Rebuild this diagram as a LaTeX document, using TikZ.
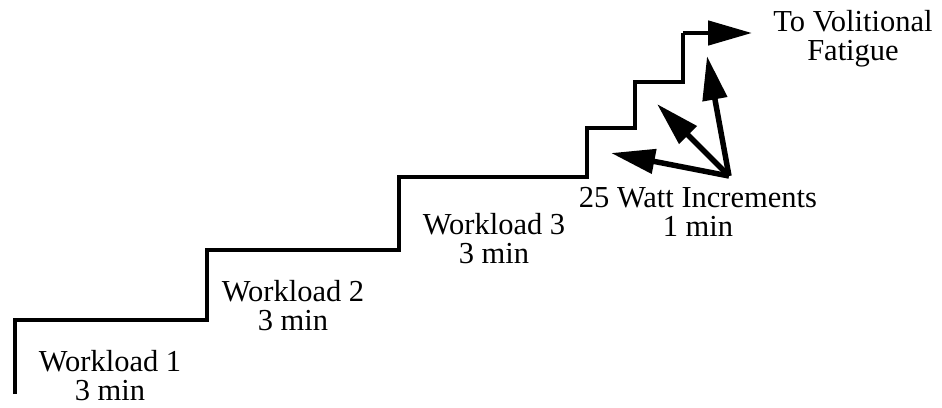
\documentclass[tikz,border=0pt]{standalone}
\usepackage{fontspec}
\setmainfont{Liberation Serif}
\usetikzlibrary{arrows.meta, positioning}

\begin{document}
\begin{tikzpicture}[
  x=1pt, y=-1pt,
  stair/.style={line width=4.8pt, line join=miter},
  incr/.style={line width=5.5pt, -{Triangle[length=44pt, width=24pt]}},
  lbl/.style={align=center, inner sep=0pt, font=\fontsize{30.5}{29}\selectfont}
]
  \useasboundingbox (0,0) rectangle (942,407);

  % staircase corners
  \coordinate (s0) at (15,394);
  \coordinate (s1) at (15,320);
  \coordinate (s2) at (207,320);
  \coordinate (s3) at (207,250);
  \coordinate (s4) at (399,250);
  \coordinate (s5) at (399,177);
  \coordinate (s6) at (587,177);
  \coordinate (s7) at (587,128);
  \coordinate (s8) at (635,128);
  \coordinate (s9) at (635,82);
  \coordinate (s10) at (683,82);
  \coordinate (s11) at (683,33);
  \coordinate (end) at (752,33);

  \draw[stair] (s0) -- (s1) -- (s2) -- (s3) -- (s4) -- (s5) -- (s6) -- (s7)
    -- (s8) -- (s9) -- (s10) -- (s11) -- (s11 -| s10);
  \draw[incr, line width=4.8pt] (s11) -- (end);

  % increment arrows
  \coordinate (src) at (729,176);
  \coordinate (t1) at (611,153);
  \coordinate (t2) at (657,104);
  \coordinate (t3) at (707,56);
  \draw[incr] (src) -- (t1);
  \draw[incr] (src) -- (t2);
  \draw[incr] (src) -- (t3);

  \node[lbl] (wl1) at (110,376) {Workload 1\\3 min};
  \node[lbl] (wl2) at (293,306) {Workload 2\\3 min};
  \node[lbl] (wl3) at (494,239) {Workload 3\\3 min};
  \node[lbl] (watt) at (698,212) {25 Watt Increments\\1 min};
  \node[lbl] (fat) at (853,39) {To Volitional\\Fatigue};
\end{tikzpicture}
\end{document}
